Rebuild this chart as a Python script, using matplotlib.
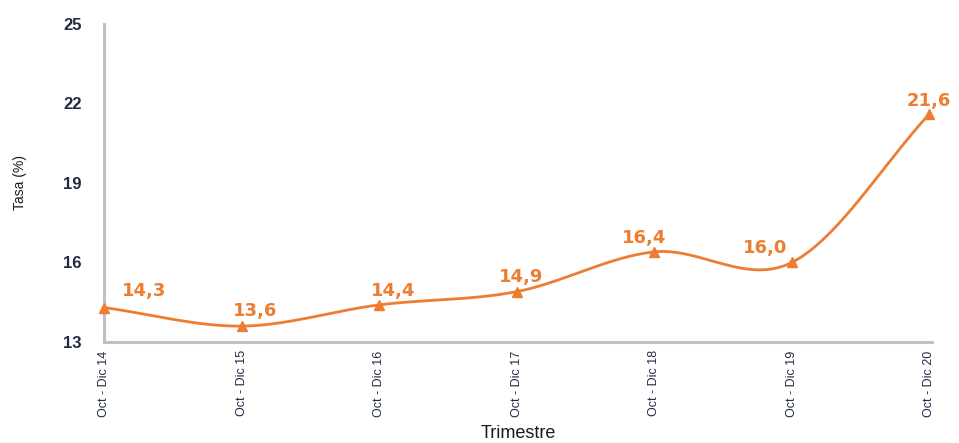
import numpy as np
import matplotlib.pyplot as plt

periodos = ['Oct - Dic 14', 'Oct - Dic 15', 'Oct - Dic 16', 'Oct - Dic 17',
            'Oct - Dic 18', 'Oct - Dic 19', 'Oct - Dic 20']
tasa = [14.3, 13.6, 14.4, 14.9, 16.4, 16.0, 21.6]
y_ticks = [13, 16, 19, 22, 25]

# label offsets (pixels) relative to each point
label_dx = [40, 14, 14, 4, -10, -27, 0]
label_dy = [17, 15, 14, 15, 14, 14, 13]

naranja = '#ed7d31'


def catmull_rom(x, y, n=40):
    # smooth curve through the points, like the office "smoothed line"
    x = np.asarray(x, float)
    y = np.asarray(y, float)
    px = np.concatenate([[2 * x[0] - x[1]], x, [2 * x[-1] - x[-2]]])
    py = np.concatenate([[2 * y[0] - y[1]], y, [2 * y[-1] - y[-2]]])
    xs, ys = [], []
    t = np.linspace(0, 1, n)
    for i in range(1, len(px) - 2):
        for p, out in ((px, xs), (py, ys)):
            p0, p1, p2, p3 = p[i - 1], p[i], p[i + 1], p[i + 2]
            out.append(0.5 * (2 * p1 + (-p0 + p2) * t
                              + (2 * p0 - 5 * p1 + 4 * p2 - p3) * t ** 2
                              + (-p0 + 3 * p1 - 3 * p2 + p3) * t ** 3))
    return np.concatenate(xs), np.concatenate(ys)


plt.rcParams['font.family'] = ['Liberation Sans', 'DejaVu Sans']

fig = plt.figure(figsize=(9.59, 4.43), dpi=100)
ax = fig.add_axes([0.1084, 0.228, 0.8635, 0.718])

x = np.arange(len(tasa))
sx, sy = catmull_rom(x, tasa)
ax.plot(sx, sy, color=naranja, lw=2, clip_on=False, zorder=3)
ax.plot(x, tasa, ls='none', marker='^', ms=7, color=naranja, clip_on=False, zorder=4)

for xi, v, dx, dy in zip(x, tasa, label_dx, label_dy):
    ax.annotate(f'{v:.1f}'.replace('.', ','), (xi, v), xytext=(dx * 0.72, dy * 0.72),
                textcoords='offset points', ha='center', va='center',
                color=naranja, fontsize=13, fontweight='bold',
                family=['DejaVu Sans'])

ax.set_xlim(0, 6.02)
ax.set_ylim(13, 25)
ax.set_yticks(y_ticks)
ax.set_xticks(x)
ax.set_xticklabels(periodos, rotation=90, fontsize=9, color='#1f2a44')
ax.tick_params(axis='y', labelsize=12, colors='#1f2a44', length=0, pad=16)
ax.tick_params(axis='x', length=0, pad=6)
for lab in ax.get_yticklabels():
    lab.set_fontweight('bold')

for s in ['top', 'right']:
    ax.spines[s].set_visible(False)
for s in ['left', 'bottom']:
    ax.spines[s].set_color('#c0c0c0')
    ax.spines[s].set_linewidth(2.2)

ax.set_ylabel('Tasa (%)', fontsize=10, color='#1a1a1a', labelpad=26)
ax.set_xlabel('Trimestre', fontsize=13, color='#1a1a1a', labelpad=6)

fig.savefig('out.png', dpi=100)
